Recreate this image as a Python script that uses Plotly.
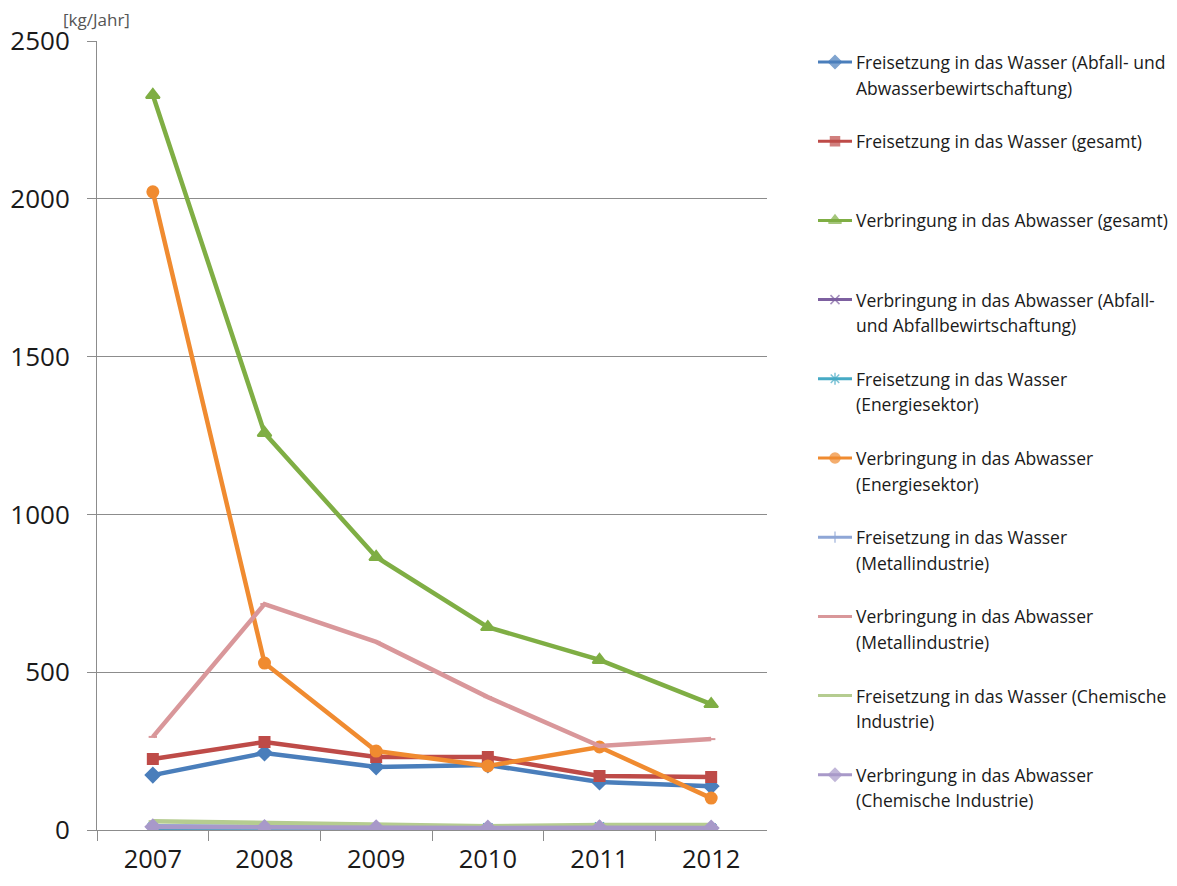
import plotly.graph_objects as go

# Jahre (Kategorien der x-Achse)
years = ["2007", "2008", "2009", "2010", "2011", "2012"]

# Jahresfrachten in kg/Jahr
freis_abfall = [174, 244, 200, 206, 152, 139]
freis_gesamt = [225, 279, 231, 231, 171, 168]
verbr_gesamt = [2329, 1258, 865, 643, 539, 399]
verbr_abfall = [5, 4, 3, 3, 4, 3]
freis_energie = [8, 7, 6, 6, 9, 5]
verbr_energie = [2022, 529, 250, 203, 263, 101]
freis_metall = [12, 10, 8, 7, 9, 8]
verbr_metall = [295, 716, 596, 421, 266, 288]
freis_chemie = [28, 22, 16, 12, 16, 16]
verbr_chemie = [10, 8, 7, 6, 7, 6]

y_ticks = [0, 500, 1000, 1500, 2000, 2500]

series = [
    (["Freisetzung in das Wasser (Abfall- und", "Abwasserbewirtschaftung)"],
     freis_abfall, "#4A7EBB", "diamond", 11),
    (["Freisetzung in das Wasser (gesamt)"],
     freis_gesamt, "#BE4B48", "square", 10),
    (["Verbringung in das Abwasser (gesamt)"],
     verbr_gesamt, "#7FAE44", "triangle-up", 12),
    (["Verbringung in das Abwasser (Abfall-", "und Abfallbewirtschaftung)"],
     verbr_abfall, "#7D60A0", "x-thin-open", 10),
    (["Freisetzung in das Wasser", "(Energiesektor)"],
     freis_energie, "#46AAC5", "asterisk-open", 11),
    (["Verbringung in das Abwasser", "(Energiesektor)"],
     verbr_energie, "#F08B30", "circle", 11),
    (["Freisetzung in das Wasser", "(Metallindustrie)"],
     freis_metall, "#8EA6D6", "line-ns-open", 9),
    (["Verbringung in das Abwasser", "(Metallindustrie)"],
     verbr_metall, "#D9979A", "line-ew-open", 6),
    (["Freisetzung in das Wasser (Chemische", "Industrie)"],
     freis_chemie, "#B5CC90", "line-ew-open", 6),
    (["Verbringung in das Abwasser", "(Chemische Industrie)"],
     verbr_chemie, "#A899C9", "diamond", 11),
]

W, H = 1177, 886
FONT = "Open Sans"
GRID = "#8C8C8C"

fig = go.Figure()

for label, vals, color, sym, size in series:
    fig.add_trace(go.Scatter(
        x=years, y=vals, mode="lines+markers",
        line=dict(color=color, width=4.5),
        marker=dict(symbol=sym, size=size, color=color,
                    line=dict(color=color, width=2)),
        name=" ".join(label), showlegend=False,
        xaxis="x", yaxis="y",
    ))

# Legende rechts: Linienstück mit Symbol und zweizeiliger Text
legend_top = 62
legend_step = 79.2
annotations = []
for i, (label, vals, color, sym, size) in enumerate(series):
    yy = legend_top + i * legend_step
    fig.add_trace(go.Scatter(
        x=[818, 835, 852], y=[yy, yy, yy], mode="lines+markers",
        line=dict(color=color, width=3),
        marker=dict(symbol=sym, size=[0, size - 1, 0], color=color,
                    line=dict(color=color, width=1.5)),
        showlegend=False, hoverinfo="skip",
        xaxis="x2", yaxis="y2",
    ))
    for j, line in enumerate(label):
        annotations.append(dict(
            x=854, y=yy + j * 25.5, xref="x2", yref="y2",
            text=line, showarrow=False, xanchor="left", yanchor="middle",
            font=dict(family=FONT, size=17.5, color="#1A1A1A"),
        ))

# Einheit über der y-Achse
annotations.append(dict(
    x=61, y=19, xref="x2", yref="y2", text="[kg/Jahr]", showarrow=False,
    xanchor="left", yanchor="middle",
    font=dict(family=FONT, size=17, color="#555555"),
))

x0, x1 = 97 / W, 767 / W
y0, y1 = (H - 830) / H, (H - 41) / H

fig.update_layout(
    width=W, height=H,
    margin=dict(l=0, r=0, t=0, b=0, pad=0, autoexpand=False),
    paper_bgcolor="white", plot_bgcolor="rgba(0,0,0,0)",
    showlegend=False,
    xaxis=dict(
        domain=[x0, x1], anchor="y", type="category",
        range=[-0.5, 5.5], tickson="boundaries",
        ticks="outside", ticklen=10, tickcolor=GRID, tickwidth=1,
        showline=True, linecolor=GRID, linewidth=1,
        showgrid=False, zeroline=False, automargin=False,
        ticklabelstandoff=6,
        tickfont=dict(family=FONT, size=25.5, color="#1A1A1A"),
    ),
    yaxis=dict(
        domain=[y0, y1], anchor="x",
        range=[0, 2500], tickvals=y_ticks,
        ticks="outside", ticklen=9, tickcolor=GRID, tickwidth=1,
        showline=True, linecolor=GRID, linewidth=1,
        showgrid=True, gridcolor=GRID, gridwidth=1,
        zeroline=False, ticklabelstandoff=12, automargin=False,
        tickfont=dict(family=FONT, size=26, color="#1A1A1A"),
    ),
    xaxis2=dict(domain=[0, 1], range=[0, W], visible=False,
                anchor="y2", fixedrange=True),
    yaxis2=dict(domain=[0, 1], range=[H, 0], visible=False,
                anchor="x2", fixedrange=True),
    annotations=annotations,
)

fig.write_html("out.html")
